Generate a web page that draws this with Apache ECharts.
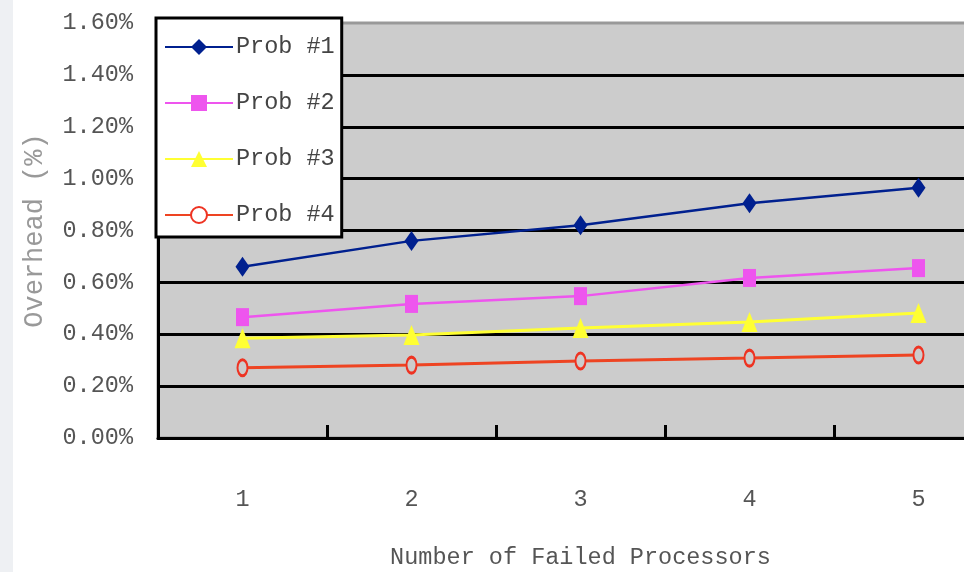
<!DOCTYPE html>
<html>
<head>
<meta charset="utf-8">
<script src="https://cdn.jsdelivr.net/npm/echarts@6/dist/echarts.min.js"></script>
<style>
  html, body { margin: 0; padding: 0; background: #ffffff; }
  #chart { width: 964px; height: 572px; }
</style>
</head>
<body>
<div id="chart"></div>
<script>
// Number of failed processors on the x axis
const categories = ['1', '2', '3', '4', '5'];

// Overhead values, in percent
const prob1 = [0.66, 0.76, 0.82, 0.905, 0.965];
const prob2 = [0.466, 0.517, 0.547, 0.617, 0.655];
const prob3 = [0.385, 0.397, 0.424, 0.447, 0.482];
const prob4 = [0.271, 0.281, 0.297, 0.308, 0.32];

const seriesNames = ['Prob #1', 'Prob #2', 'Prob #3', 'Prob #4'];

// Y axis ticks: 0.00% .. 1.60% in steps of 0.20%
const yMin = 0, yMax = 1.6, yStep = 0.2;

const FONT = '"Liberation Mono", "DejaVu Sans Mono", monospace';

const chart = echarts.init(document.getElementById('chart'), null, { renderer: 'canvas' });

chart.setOption({
  animation: false,
  backgroundColor: '#ffffff',
  graphic: [{
    type: 'rect',
    left: 0, top: 0, z: -10,
    shape: { width: 13, height: 572 },
    style: { fill: '#eef0f3' }
  }],
  // the plot runs past the right edge of the canvas
  grid: {
    left: 158, top: 23, width: 845, height: 415,
    outerBoundsMode: 'none',
    containLabel: false,
    show: true,
    backgroundColor: '#cccccc',
    borderColor: '#999999',
    borderWidth: 3
  },
  legend: {
    orient: 'vertical',
    left: 156, top: 18,
    padding: [17, 7, 10, 8],
    backgroundColor: '#ffffff',
    borderColor: '#000000',
    borderWidth: 3,
    borderRadius: 0,
    itemWidth: 68,
    itemHeight: 20,
    itemGap: 32,
    textStyle: { fontFamily: FONT, fontSize: 23.5, color: '#444444', lineHeight: 20, padding: [0, 0, 0, -2] },
    data: [
      { name: seriesNames[0] },
      { name: seriesNames[1] },
      { name: seriesNames[2] },
      { name: seriesNames[3], itemStyle: { color: '#ffffff' } }
    ]
  },
  xAxis: {
    type: 'category',
    data: categories,
    boundaryGap: true,
    name: 'Number of Failed Processors',
    nameLocation: 'middle',
    nameGap: 108,
    nameTextStyle: { fontFamily: FONT, fontSize: 23.5, color: '#555555' },
    axisLine: { show: true, lineStyle: { color: '#000000', width: 3 } },
    axisTick: { show: true, inside: true, length: 13, lineStyle: { color: '#000000', width: 3 } },
    axisLabel: { margin: 50, fontFamily: FONT, fontSize: 23.5, color: '#555555' },
    splitLine: { show: false }
  },
  yAxis: {
    type: 'value',
    min: yMin, max: yMax, interval: yStep,
    name: 'Overhead (%)',
    nameLocation: 'middle',
    nameRotate: 90,
    nameGap: 110,
    nameTextStyle: { fontFamily: FONT, fontSize: 27, color: '#999999' },
    axisLine: { show: true, lineStyle: { color: '#000000', width: 3 } },
    axisTick: { show: false },
    axisLabel: {
      margin: 25,
      fontFamily: FONT, fontSize: 23.5, color: '#555555',
      formatter: v => v.toFixed(2) + '%'
    },
    splitLine: {
      show: true,
      showMinLine: false,
      showMaxLine: false,
      lineStyle: { color: '#000000', width: 3 }
    }
  },
  series: [
    {
      name: seriesNames[0], type: 'line', data: prob1,
      symbol: 'diamond', symbolSize: [14, 20],
      lineStyle: { color: '#00208f', width: 2.5 },
      itemStyle: { color: '#00208f' }
    },
    {
      name: seriesNames[1], type: 'line', data: prob2,
      symbol: 'rect', symbolSize: [13, 18],
      lineStyle: { color: '#ee55ee', width: 2.5 },
      itemStyle: { color: '#ee55ee' }
    },
    {
      name: seriesNames[2], type: 'line', data: prob3,
      symbol: 'triangle', symbolSize: [16, 20],
      lineStyle: { color: '#ffff33', width: 3 },
      itemStyle: { color: '#ffff33' }
    },
    {
      name: seriesNames[3], type: 'line', data: prob4,
      symbol: 'circle', symbolSize: [10, 16],
      lineStyle: { color: '#ee4422', width: 3 },
      itemStyle: { color: '#cccccc', borderColor: '#ee3322', borderWidth: 2.5 }
    }
  ]
});
</script>
</body>
</html>
